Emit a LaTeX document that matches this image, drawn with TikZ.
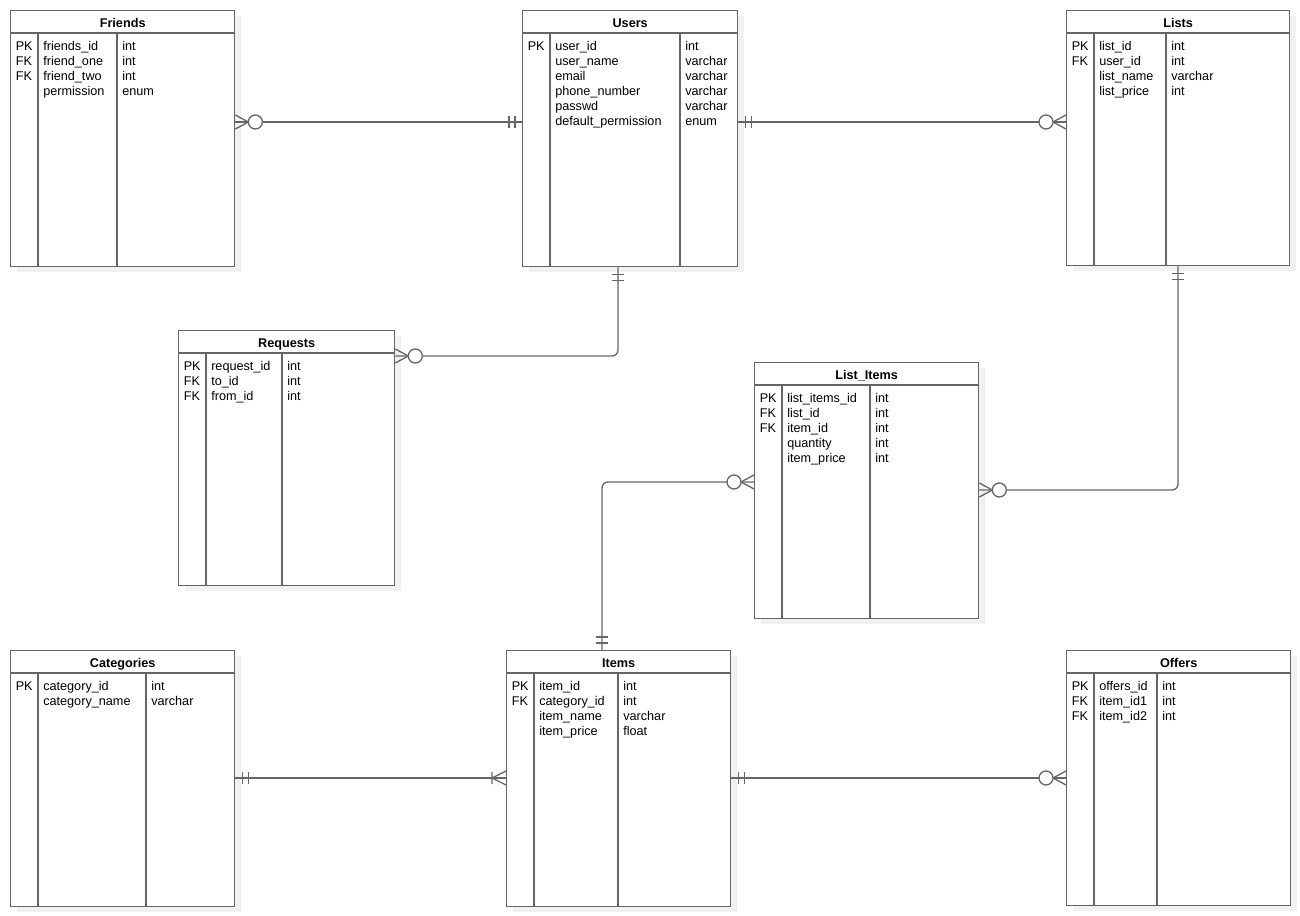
\documentclass[tikz,border=0pt]{standalone}
\usepackage{fontspec}
\setmainfont{Liberation Sans}
\usetikzlibrary{calc}
\definecolor{linegray}{HTML}{666666}
\definecolor{shadowgray}{HTML}{F0F0F0}
\tikzstyle{erline} = [draw=linegray, line width=1pt]
\tikzstyle{entity} = [erline, rectangle, fill=white, inner sep=0pt]
\tikzstyle{shade} = [fill=shadowgray]
\tikzstyle{title} = [font=\fontsize{9.5}{11.25}\selectfont\bfseries, inner sep=0pt]
\tikzstyle{field} = [font=\fontsize{9.5}{11.25}\selectfont, align=left, inner sep=0pt, anchor=north west]
\tikzstyle{rel} = [erline, rounded corners=4.5pt]
\tikzset{
  zmany/.pic = {
    \draw [erline] (0,-7) -- (13,0) -- (0,7);
    \draw [erline, fill=white] (20,0) circle [radius=5.25pt];
  },
  oneone/.pic = {
    \draw [erline] (7,-6) -- (7,6) (13,-6) -- (13,6);
  },
  onemany/.pic = {
    \draw [erline] (0,-7) -- (14,0) -- (0,7) (14,-6) -- (14,6);
  }
}
% name, left, top, width, height, title
\newcommand*{\ertable}[6]{
  \fill [shade] (#2+7,#3+6) rectangle ++(#4,#5);
  \node (#1) [entity, minimum width=#4*0.75pt, minimum height=#5*0.75pt, anchor=north west] at (#2,#3) {};
  \draw [erline] ([yshift=-17.25pt]#1.north west) -- ([yshift=-17.25pt]#1.north east);
  \node [title, anchor=base] at ($(#1.north)+(0,17.3)$) {#6};
}
% name, key column, type column, keys, fields, types
\newcommand*{\erfields}[6]{
  \draw [erline] ([yshift=-17.25pt]#1.north -| #2,0) -- (#1.south -| #2,0);
  \draw [erline] ([yshift=-17.25pt]#1.north -| #3,0) -- (#1.south -| #3,0);
  \node [field] at ($(#1.north west)+(5.5,30)$) {#4};
  \node [field] at ($(#1.north -| #2,0)+(5,30)$) {#5};
  \node [field] at ($(#1.north -| #3,0)+(5,30)$) {#6};
}

\begin{document}
\begin{tikzpicture}[x=0.75pt, y=-0.75pt]
    \useasboundingbox (0,0) rectangle (1300,916);

    % Tables.
    \ertable{friends}{10}{10}{224}{256}{Friends}
    \erfields{friends}{38}{117}{\strut PK\\FK\\FK}{\strut friends\_id\\friend\_one\\friend\_two\\permission}{\strut int\\int\\int\\enum}
    \ertable{users}{522}{10}{215}{256}{Users}
    \erfields{users}{550}{680}{\strut PK}{\strut user\_id\\user\_name\\email\\phone\_number\\passwd\\default\_permission}{\strut int\\varchar\\varchar\\varchar\\varchar\\enum}
    \ertable{lists}{1066}{10}{223}{255}{Lists}
    \erfields{lists}{1094}{1166}{\strut PK\\FK}{\strut list\_id\\user\_id\\list\_name\\list\_price}{\strut int\\int\\varchar\\int}
    \ertable{requests}{178}{330}{216}{255}{Requests}
    \erfields{requests}{206}{282}{\strut PK\\FK\\FK}{\strut request\_id\\to\_id\\from\_id}{\strut int\\int\\int}
    \ertable{listitems}{754}{362}{224}{256}{List\_Items}
    \erfields{listitems}{782}{870}{\strut PK\\FK\\FK}{\strut list\_items\_id\\list\_id\\item\_id\\quantity\\item\_price}{\strut int\\int\\int\\int\\int}
    \ertable{categories}{10}{650}{224}{256}{Categories}
    \erfields{categories}{38}{146}{\strut PK}{\strut category\_id\\category\_name}{\strut int\\varchar}
    \ertable{items}{506}{650}{224}{256}{Items}
    \erfields{items}{534}{618}{\strut PK\\FK}{\strut item\_id\\category\_id\\item\_name\\item\_price}{\strut int\\int\\varchar\\float}
    \ertable{offers}{1066}{650}{224}{255}{Offers}
    \erfields{offers}{1094}{1157}{\strut PK\\FK\\FK}{\strut offers\_id\\item\_id1\\item\_id2}{\strut int\\int\\int}

    % Relations.
    \draw [rel] (friends.east |- 0,122) -- (users.west |- 0,122);
    \pic at (friends.east |- 0,122) {zmany};
    \pic [rotate=180] at (users.west |- 0,122) {oneone};

    \draw [rel] (users.east |- 0,122) -- (lists.west |- 0,122);
    \pic at (users.east |- 0,122) {oneone};
    \pic [rotate=180] at (lists.west |- 0,122) {zmany};

    \draw [rel] (users.south -| 618,0) |- (requests.east |- 0,356);
    \pic [rotate=-90] at (users.south -| 618,0) {oneone};
    \pic at (requests.east |- 0,356) {zmany};

    \draw [rel] (lists.south -| 1178,0) |- (listitems.east |- 0,490);
    \pic [rotate=-90] at (lists.south -| 1178,0) {oneone};
    \pic at (listitems.east |- 0,490) {zmany};

    \draw [rel] (items.north -| 602,0) |- (listitems.west |- 0,482);
    \pic [rotate=90] at (items.north -| 602,0) {oneone};
    \pic [rotate=180] at (listitems.west |- 0,482) {zmany};

    \draw [rel] (categories.east |- 0,778) -- (items.west |- 0,778);
    \pic at (categories.east |- 0,778) {oneone};
    \pic [rotate=180] at (items.west |- 0,778) {onemany};

    \draw [rel] (items.east |- 0,778) -- (offers.west |- 0,778);
    \pic at (items.east |- 0,778) {oneone};
    \pic [rotate=180] at (offers.west |- 0,778) {zmany};
\end{tikzpicture}
\end{document}
